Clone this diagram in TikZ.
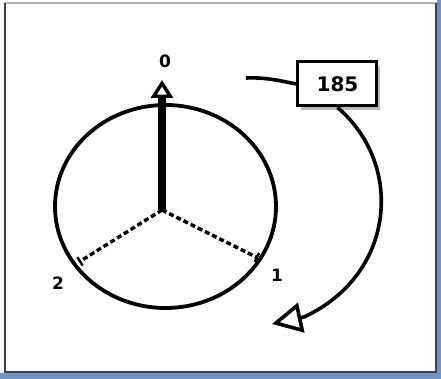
\documentclass[tikz,border=0pt]{standalone}
\usepackage{fontspec}
\setmainfont{DejaVu Sans}
\usetikzlibrary{shapes.geometric,arrows.meta,positioning}
\definecolor{winblue}{RGB}{112,146,192}
\definecolor{framegray}{RGB}{64,64,64}

\begin{document}
\begin{tikzpicture}[x=0.5pt, y=-0.5pt,
  dial/.style={ellipse, draw, line width=1.9pt, minimum width=110.5pt, minimum height=101.5pt, inner sep=0pt},
  spoke/.style={line width=1.7pt, dash pattern=on 2.5pt off 1.5pt, -{Bar[width=5pt, line width=1.2pt]}},
  needle/.style={line width=3.6pt, -{Triangle[open, length=9pt, width=11pt, line width=1.7pt]}},
  turn/.style={line width=1.8pt, -{Triangle[open, length=15pt, width=15pt, line width=1.8pt]}},
  countbox/.style={rectangle, draw, line width=1.5pt, fill=white, minimum width=39.5pt, minimum height=22pt,
    font=\fontsize{10}{12}\selectfont\bfseries},
  countshadow/.style={rectangle, fill=gray!55, minimum width=39.5pt, minimum height=22pt},
  marklabel/.style={font=\fontsize{8.5}{10}\selectfont\bfseries, inner sep=0pt}
]
  % window frame
  \fill[winblue] (0,0) rectangle (441,379);
  \fill[white] (0,0) rectangle (437,373);
  \draw[gray!60, line width=0.6pt] (5,3) -- (437,3);
  \draw[framegray, line width=1pt] (5,3) -- (5,373);
  \draw[framegray, line width=0.8pt] (5,372) -- (436,372) -- (436,3);
  \useasboundingbox (0,0) rectangle (441,379);

  \node[dial] (dial) at (165.5,206.5) {};
  \coordinate (hub) at (162,210);
  \coordinate (end1) at (258,258);
  \coordinate (end2) at (79,262);
  \coordinate (tip0) at (162,80);

  \draw[spoke] (hub) -- (end1);
  \draw[spoke] (hub) -- (end2);
  \draw[needle] (hub) -- (tip0);

  \node[marklabel] (lab0) at (165,61) {0};
  \node[marklabel] (lab1) at (277,275) {1};
  \node[marklabel] (lab2) at (58,283) {2};

  \node[countshadow] (shadow) at (341,88) {};
  \node[countbox] (count) at (337.5,84) {185};

  \coordinate (cstart) at (246,78);
  \coordinate (cbase) at (304,317);
  \coordinate (cend) at (272,324);
  \draw[line width=1.8pt] (cstart) .. controls (268,77) and (285,82) .. (count.west);
  \draw[turn] (count.south) .. controls (405,165) and (395,275) .. (cbase) -- (cend);
\end{tikzpicture}
\end{document}
